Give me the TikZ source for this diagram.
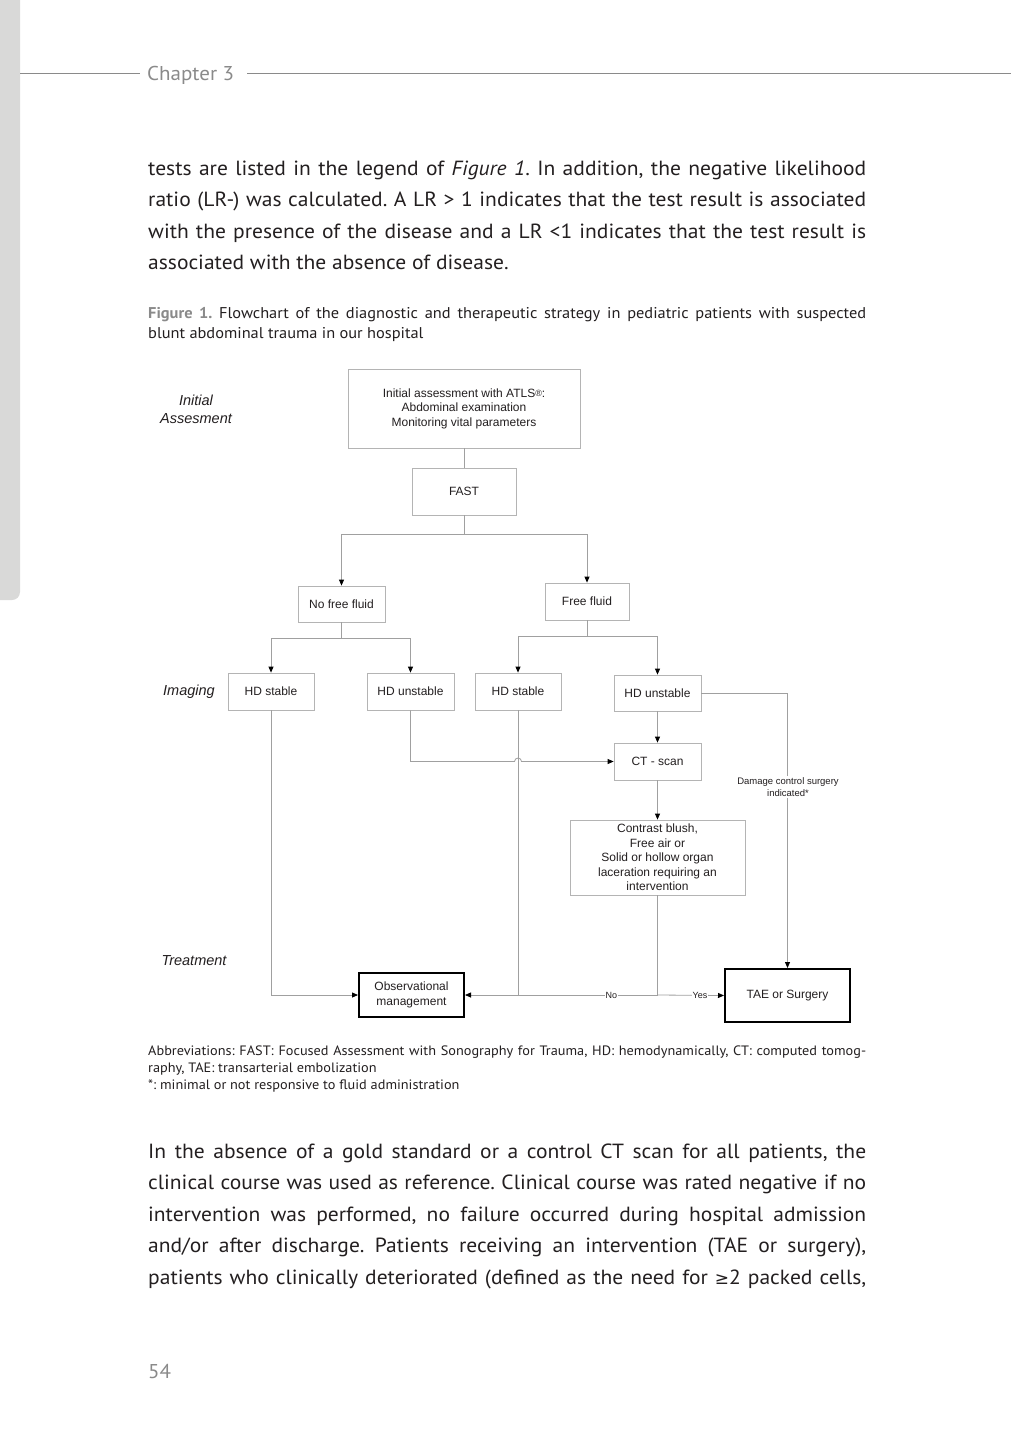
\documentclass[tikz,border=0pt]{standalone}
\usepackage{fontspec}
\setmainfont{PT Sans}[FakeStretch=1.05]
\newfontfamily\arial{Liberation Sans}
\newfontfamily\dejavu{DejaVu Sans}
\usetikzlibrary{arrows.meta}
\definecolor{bargray}{HTML}{D9D9D8}
\definecolor{headgray}{HTML}{8A8A8A}
\definecolor{txt}{HTML}{231F20}
\definecolor{boxgray}{HTML}{B4B4B4}
\definecolor{linegray}{HTML}{A0A0A0}
\frenchspacing
\begin{document}
\begin{tikzpicture}[x=1pt,y=-1pt,
  box/.style={draw=boxgray, line width=0.8pt, rectangle, inner sep=0pt, align=center,
    font=\arial\fontsize{12}{14.5}\selectfont, text=txt},
  tbox/.style={box, draw=black, line width=2pt},
  conn/.style={draw=linegray, line width=0.8pt},
  arr/.style={conn, -{Triangle[length=6pt,width=5pt,color=black]}},
  lbl/.style={fill=white, inner sep=1pt, align=center, text=txt},
  side/.style={font=\arial\itshape\fontsize{14.5}{18}\selectfont, align=center, text=txt},
  bodyl/.style={anchor=base west, inner sep=0pt, text=txt, font=\fontsize{20.5}{24}\selectfont},
  capl/.style={anchor=base west, inner sep=0pt, text=txt, font=\fontsize{15.6}{18}\selectfont},
  abbl/.style={anchor=base west, inner sep=0pt, text=txt, font=\fontsize{13.6}{16}\selectfont}
]
\useasboundingbox[fill=white] (0,0) rectangle (1011,1440);
% side bar and header
\fill[bargray, rounded corners=8pt] (-20,-20) rectangle (20,600);
\draw[headgray, line width=1pt] (20,73) -- (140,73);
\draw[headgray, line width=1pt] (247,73) -- (1011,73);
\node[anchor=base west, inner sep=0pt, text=headgray, font=\fontsize{20}{24}\selectfont] (chap) at (147,80) {Chapter 3};
\node[anchor=base west, inner sep=0pt, text=headgray, font=\fontsize{20}{24}\selectfont] (pnum) at (148,1378) {54};

% paragraph 1
\node[bodyl] (p1) at (148,175) {\makebox[718pt][s]{tests are listed in the legend of \textit{Figure 1}. In addition, the negative likelihood}};
\node[bodyl] (p2) at (148,206.5) {\makebox[718pt][s]{ratio (LR-) was calculated. A LR > 1 indicates that the test result is associated}};
\node[bodyl] (p3) at (148,238) {\makebox[718pt][s]{with the presence of the disease and a LR <1 indicates that the test result is}};
\node[bodyl] (p4) at (148,269.5) {associated with the absence of disease.};

% caption
\node[capl] (c1) at (148,318) {\makebox[718pt][s]{{\color{headgray}\bfseries Figure 1.} Flowchart of the diagnostic and therapeutic strategy in pediatric patients with suspected}};
\node[capl] (c2) at (148,338.5) {blunt abdominal trauma in our hospital};

% abbreviations
\node[abbl] (a1) at (148,1055.5) {\makebox[718pt][s]{Abbreviations: FAST: Focused Assessment with Sonography for Trauma, HD: hemodynamically, CT: computed tomog-}};
\node[abbl] (a2) at (148,1072.5) {raphy, TAE: transarterial embolization};
\node[abbl] (a3) at (148,1089.5) {*: minimal or not responsive to fluid administration};

% paragraph 2
\node[bodyl] (q1) at (148,1158) {\makebox[718pt][s]{In the absence of a gold standard or a control CT scan for all patients, the}};
\node[bodyl] (q2) at (148,1189.5) {\makebox[718pt][s]{clinical course was used as reference. Clinical course was rated negative if no}};
\node[bodyl] (q3) at (148,1221) {\makebox[718pt][s]{intervention was performed, no failure occurred during hospital admission}};
\node[bodyl] (q4) at (148,1252.5) {\makebox[718pt][s]{and/or after discharge. Patients receiving an intervention (TAE or surgery),}};
\node[bodyl] (q5) at (148,1284) {\makebox[718pt][s]{patients who clinically deteriorated (defined as the need for {\dejavu\fontsize{17}{20}\selectfont ≥}2 packed cells,}};

% side labels
\node[side] (sInit) at (196,409) {Initial\\Assesment};
\node[side] (sImg) at (189,692) {Imaging};
\node[side] (sTr) at (194,961) {Treatment};

% boxes
\node[box, minimum width=232pt, minimum height=79pt] (init) at (464,408.5) {Initial assessment with ATLS{\fontsize{9}{10}\selectfont\raisebox{1pt}{®}}:\\Abdominal examination\\Monitoring vital parameters};
\node[box, minimum width=104pt, minimum height=47pt] (fast) at (464,491.5) {FAST};
\node[box, minimum width=87pt, minimum height=36pt] (nff) at (341.5,604) {No free fluid};
\node[box, minimum width=84pt, minimum height=37pt] (ff) at (587,601.5) {Free fluid};
\node[box, minimum width=86pt, minimum height=37pt] (hds1) at (271,691.5) {HD stable};
\node[box, minimum width=87pt, minimum height=37pt] (hdu1) at (410.5,691.5) {HD unstable};
\node[box, minimum width=86pt, minimum height=37pt] (hds2) at (518,691.5) {HD stable};
\node[box, minimum width=87pt, minimum height=36pt] (hdu2) at (657.5,693) {HD unstable};
\node[box, minimum width=87pt, minimum height=37pt] (ct) at (657.5,761.5) {CT - scan};
\node[box, minimum width=175pt, minimum height=75pt] (cb) at (657.5,857.5) {Contrast blush,\\Free air or\\Solid or hollow organ\\laceration requiring an\\intervention};
\node[tbox, minimum width=105pt, minimum height=44pt] (obs) at (411.5,995) {Observational\\management};
\node[tbox, minimum width=125pt, minimum height=53pt] (tae) at (787.5,995.5) {TAE or Surgery};

% junctions
\coordinate (j1) at (464,534);
\coordinate (j2) at (341.5,638);
\coordinate (j3) at (587,636);
\coordinate (j4) at (657.5,995);

% connectors
\draw[conn] (init) -- (fast);
\draw[conn] (fast) -- (j1);
\draw[arr] (j1) -| (nff);
\draw[arr] (j1) -| (ff);
\draw[conn] (nff) -- (j2);
\draw[arr] (j2) -| (hds1);
\draw[arr] (j2) -| (hdu1);
\draw[conn] (ff) -- (j3);
\draw[arr] (j3) -| (hds2);
\draw[arr] (j3) -| (hdu2);
\draw[arr] (hdu2) -- (ct);
\draw[arr] (hdu1.south) -- (hdu1.south |- ct.west) -- ([xshift=-3.5pt]hds2.south |- ct.west) arc[start angle=180, end angle=0, radius=3.5pt] -- (ct.west);
\draw[arr] (ct) -- (cb);
\draw[arr] (hdu2.east) -| (tae.north);
\node[lbl, font=\arial\fontsize{9.5}{11.5}\selectfont, inner sep=2pt] (dcs) at (788,787) {Damage control surgery\\indicated*};
\draw[arr] (hds1.south) |- (obs.west);
\draw[conn] (hds2.south) -- (hds2.south |- obs.west);
\draw[conn] (cb) -- (j4);
\draw[arr] (j4) -- node[lbl, font=\arial\fontsize{9}{10}\selectfont, pos=0.24] (no) {No} (obs.east);
\draw[arr] (j4) -- node[lbl, font=\arial\fontsize{9}{10}\selectfont, pos=0.64] (yes) {Yes} (tae.west);
\end{tikzpicture}
\end{document}
